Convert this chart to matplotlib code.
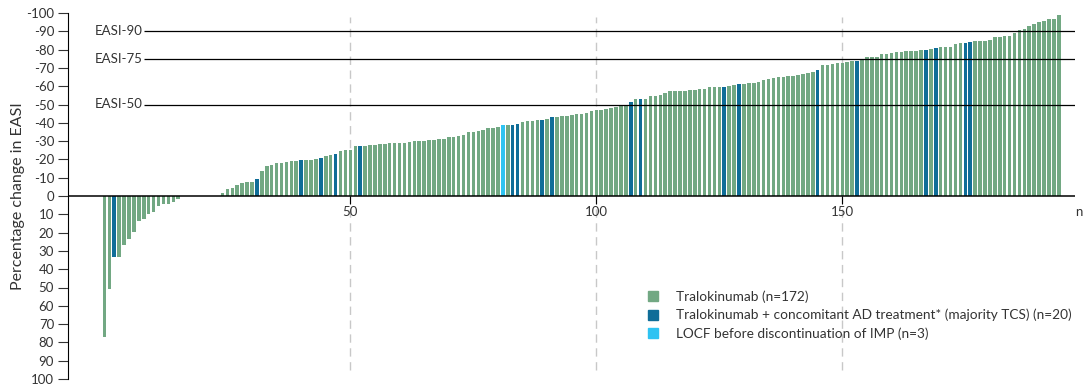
import matplotlib.pyplot as plt
from matplotlib.patches import Patch
import numpy as np

plt.rcParams['font.family'] = ['Lato', 'DejaVu Sans']

# percentage change in EASI per patient, sorted (negative = improvement)
change = [77, 51, 33.5, 33.5, 26.6, 23.5, 19.5, 13.5, 12.4, 9.8, 8.9, 5.6, 4.5, 4.2, 3.1, 1.8,
          0, 0, 0, 0, 0, 0, 0, 0,
          -1.6, -3.6, -4.2, -6.0, -7.3, -7.8, -7.8, -9.3, -13.7, -16.2, -16.8, -17.9, -17.9, -18.4, -19.3, -19.3,
          -19.9, -19.9, -19.9, -20.4, -20.9, -21.9, -22.4, -23.1, -24.4, -25.0, -25.1, -27.1, -27.1, -27.1,
          -27.7, -27.7, -28.2, -28.2, -28.8, -28.8,
          -28.8, -28.8, -29.3, -29.9, -29.9, -29.9, -30.4, -30.4, -31.0, -31.0, -32.4, -32.4, -33.0, -33.5,
          -35.0, -35.0, -35.5, -36.1, -37.2, -37.2, -37.7,
          -38.6, -38.6, -38.6, -39.3, -40.4, -40.8, -40.8, -41.3, -41.3, -41.9, -43.0, -43.0, -43.5, -43.5,
          -44.1, -44.6, -44.6, -45.2, -46.4, -47.0,
          -47.0, -47.5, -48.1, -48.6, -49.5, -49.7, -51.4, -52.8, -52.8, -52.8, -54.5, -54.5, -55.4, -56.1,
          -57.6, -57.6, -57.6, -57.6, -58.1, -58.1, -58.5,
          -58.5, -59.4, -59.4, -59.4, -59.6, -60.1, -60.7, -61.2, -61.2, -61.7, -61.7, -62.3, -63.2, -63.8,
          -64.3, -64.9, -64.9, -65.4, -65.4,
          -66.0, -66.9, -67.2, -67.8, -69.0, -71.6, -71.8, -72.3, -72.7, -72.7, -73.0, -73.8, -73.8, -74.7,
          -75.8, -75.8, -75.8, -77.4, -77.4, -78.0,
          -78.5, -78.5, -79.1, -79.1, -79.1, -79.6, -79.6, -80.2, -80.7, -81.3, -81.3, -81.3, -83.1, -83.6,
          -83.6, -84.2, -84.7, -84.7, -84.7,
          -85.3, -86.8, -86.8, -87.4, -87.4, -89.1, -90.5, -91.3, -92.7, -94.2, -95.3, -95.8, -96.7, -96.7, -98.9]

concomitant = [2, 31, 40, 44, 47, 52, 83, 84, 89, 91, 107, 109, 126, 129, 145, 153, 167, 169, 175, 176]
locf = [81]

thresholds = [-90, -75, -50]
threshold_labels = ['EASI-90', 'EASI-75', 'EASI-50']
legend_labels = ['Tralokinumab (n=172)',
                 'Tralokinumab + concomitant AD treatment* (majority TCS) (n=20)',
                 'LOCF before discontinuation of IMP (n=3)']

green = '#72a883'
blue = '#0f6d98'
cyan = '#2ec3f2'
txt = '#333333'

colors = [green] * len(change)
for i in concomitant:
    colors[i] = blue
for i in locf:
    colors[i] = cyan

fig = plt.figure(figsize=(10.86, 3.88), dpi=100)
ax = fig.add_axes([68 / 1086, 9 / 388, 1007 / 1086, 366 / 388])

x = np.arange(len(change))
ax.bar(x, change, width=0.72, color=colors, zorder=2)

ax.set_xlim(-7.4, 197.3)
ax.set_ylim(100, -100)

for v in [50, 100, 150]:
    ax.axvline(v, ymin=0.025, ymax=0.99, color='#c8c8c8', lw=1, ls=(0, (6, 4)), zorder=1)

for t, lab in zip(thresholds, threshold_labels):
    ax.hlines(t, 8.1, 197.3, color='black', lw=0.9, zorder=3)
    ax.text(-2, t, lab, ha='left', va='center', fontsize=9.5, color=txt)

ax.axhline(0, color='black', lw=1.1, zorder=4)

yt = np.arange(-100, 101, 10)
ax.set_yticks(yt)
ax.set_yticklabels([str(v) for v in yt], fontsize=9.5, color=txt)
ax.tick_params(axis='y', length=7, width=0.8, colors=txt, pad=3)

ax.set_xticks([50, 100, 150])
ax.set_xticklabels([])
ax.tick_params(axis='x', length=6, width=0.8, direction='out', pad=0)
for v in [50, 100, 150]:
    ax.text(v, 8.5, str(v), ha='center', va='center', fontsize=9.5, color=txt)
ax.text(197.3, 8.5, 'n', ha='left', va='center', fontsize=9.5, color=txt)

for s in ['top', 'right', 'bottom']:
    ax.spines[s].set_visible(False)
ax.spines['left'].set_linewidth(0.8)
ax.spines['left'].set_bounds(-100, 100)

# x ticks hang from the zero line
ax.xaxis.set_ticks_position('bottom')
ax.spines['bottom'].set_position(('data', 0))

ax.set_ylabel('Percentage change in EASI', fontsize=11.5, color=txt)
ax.yaxis.set_label_coords(-43 / 1007, 0.5)

handles = [Patch(color=c) for c in [green, blue, cyan]]
ax.legend(handles, legend_labels, loc='upper left', bbox_to_anchor=(636 / 1086, 1 - 278 / 388),
          bbox_transform=fig.transFigure, frameon=False, fontsize=9.8, handlelength=0.75,
          handleheight=0.75, handletextpad=1.3, labelspacing=0.45, labelcolor=txt)

fig.savefig('out.png', dpi=100)
